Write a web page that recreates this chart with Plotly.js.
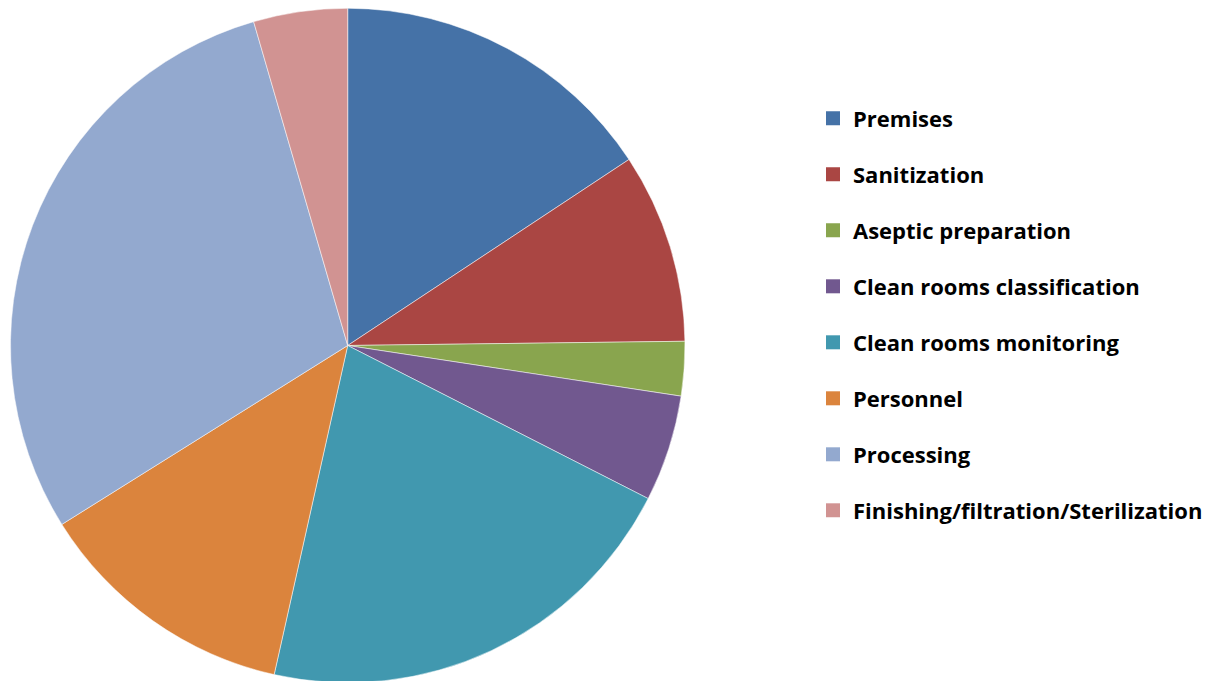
<!DOCTYPE html>
<html>
<head>
<meta charset="utf-8">
<script src="https://cdn.plot.ly/plotly-3.0.1.min.js"></script>
<style>
html,body{margin:0;padding:0;overflow:hidden;background:#fff;}
#chart{width:1208px;height:690px;}
</style>
</head>
<body>
<div id="chart"></div>
<script>
const categories = ["Premises", "Sanitization", "Aseptic preparation", "Clean rooms classification", "Clean rooms monitoring", "Personnel", "Processing", "Finishing/filtration/Sterilization"];
const shares = [15.7, 9.1, 2.6, 5.1, 21.0, 12.6, 29.4, 4.5];
const colors = ["#4572A7", "#AA4643", "#89A54E", "#71588F", "#4198AF", "#DB843D", "#93A9CF", "#D19392"];

const traces = [{
  type: "pie",
  labels: categories,
  values: shares,
  sort: false,
  direction: "clockwise",
  rotation: 0,
  textinfo: "none",
  hoverinfo: "label+percent",
  marker: {colors: colors, line: {color: "#ffffff", width: 0.5}},
  showlegend: false,
  domain: {x: [0.00869, 0.56747], y: [0.010145, 0.98841]}
}];

categories.forEach(function (c, i) {
  traces.push({
    type: "scatter",
    mode: "markers",
    x: [null], y: [null],
    name: c,
    legendgroup: c,
    showlegend: true,
    hoverinfo: "skip",
    marker: {symbol: "square", size: 14, color: colors[i]}
  });
});

const layout = {
  width: 1208, height: 690,
  margin: {l: 0, r: 0, t: 0, b: 0},
  paper_bgcolor: "#ffffff",
  plot_bgcolor: "#ffffff",
  xaxis: {visible: false, domain: [0.99, 1]},
  yaxis: {visible: false, domain: [0.99, 1]},
  showlegend: true,
  legend: {
    x: 814 / 1208, xanchor: "left",
    y: (690 - 97.5) / 690, yanchor: "top",
    traceorder: "grouped",
    tracegroupgap: 24.4,
    font: {family: "Open Sans", size: 22, color: "#000000", weight: "bold"},
    bgcolor: "rgba(0,0,0,0)",
    borderwidth: 0
  }
};

Plotly.newPlot("chart", traces, layout, {displayModeBar: false, staticPlot: true});
</script>
</body>
</html>
